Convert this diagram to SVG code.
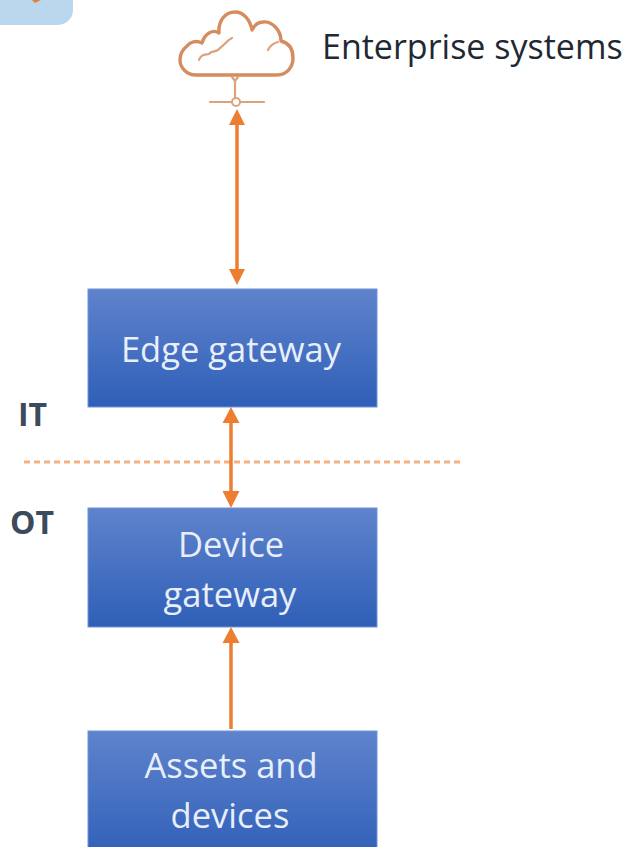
<svg xmlns="http://www.w3.org/2000/svg" width="631" height="847" viewBox="0 0 631 847">
<style>
.box{fill:url(#g);stroke:#6f94d6;stroke-width:1}
.nt{font-family:"Open Sans","Noto Sans",sans-serif;font-size:34.500px;fill:#e8eefa;text-anchor:middle}
.lb{font-family:"Open Sans","Noto Sans",sans-serif;font-size:32px;font-weight:700;fill:#3c4a5c}
.c{stroke:#ed7d31;stroke-width:3.5;fill:none}
.a{fill:#ed7d31}
.cl{fill:none;stroke:#d58c5e;stroke-width:3.4;stroke-linecap:round;stroke-linejoin:round}
.th{fill:none;stroke:#dba27e;stroke-width:2.2;stroke-linecap:round;stroke-linejoin:round}
</style>
<defs><linearGradient id="g" x1="0" y1="0" x2="0" y2="1"><stop offset="0" stop-color="#5f83cc"/><stop offset="1" stop-color="#2f5fb8"/></linearGradient>
<filter id="b" x="-10%" y="-10%" width="120%" height="120%"><feGaussianBlur stdDeviation="0.7"/></filter></defs>
<rect x="-30" y="-30" width="103" height="55" rx="15" fill="#bad7ee"/>
<path d="M32 0L41 0L35 3Z" fill="#ed7d31"/>
<g id="cloud" filter="url(#b)">
<path class="cl" d="M196 75 H277 C287 75 293 67 293 58 C293 49 289 43 281 41 C281 30 272 21 263 22 C258 22 254 26 252 30 C250 19 243 12 235 12 C225 12 218 21 219 33 C213 29 205 33 202 43 C196 40 190 42 187 46 C182 50 180 55 180 60 C180 68 187 75 196 75Z"/>
<path class="th" d="M199 60 C201 54 205 55 209 54 C212 50 217 53 220 48 C225 45 227 40 232 38"/>
<path class="th" d="M268 50 C270 46 274 43 278 42"/>
<path class="th" d="M232 77 L235 81 V97 M238 77 L235 81 M210 102 H264"/>
<circle cx="236" cy="102" r="4" fill="#fff" stroke="#dba27e" stroke-width="2"/>
</g>
<g id="enterprise-label"><text x="322" y="59" font-family="'Open Sans','Noto Sans',sans-serif" font-size="34" fill="#1f2933">Enterprise systems</text></g>
<g id="it-label"><text class="lb" x="18" y="426">IT</text></g>
<g id="ot-label"><text class="lb" x="10" y="534">OT</text></g>
<g id="divider"><line x1="24" y1="462" x2="462" y2="462" stroke="#f4b183" stroke-width="3" stroke-dasharray="6 4"/></g>
<g id="edge-gateway"><rect class="box" x="88" y="289" width="289" height="118"/><text class="nt" x="231" y="362">Edge gateway</text></g>
<g id="device-gateway"><rect class="box" x="88" y="508" width="289" height="119"/><text class="nt" x="231" y="557">Device</text><text class="nt" x="230" y="607">gateway</text></g>
<g id="assets-devices"><rect class="box" x="88" y="731" width="289" height="130"/><text class="nt" x="231" y="778">Assets and</text><text class="nt" x="230" y="828">devices</text></g>
<g id="connectors">
<path class="c" d="M237 122V272M231 418V497M231 638V729"/>
<path class="a" d="M237 109L229 125H245ZM237 285L229 269H245ZM231 407L222.500 423H239.500ZM231 508L222.500 491H239.500ZM231 627L222.500 643H239.500Z"/>
</g>
</svg>
